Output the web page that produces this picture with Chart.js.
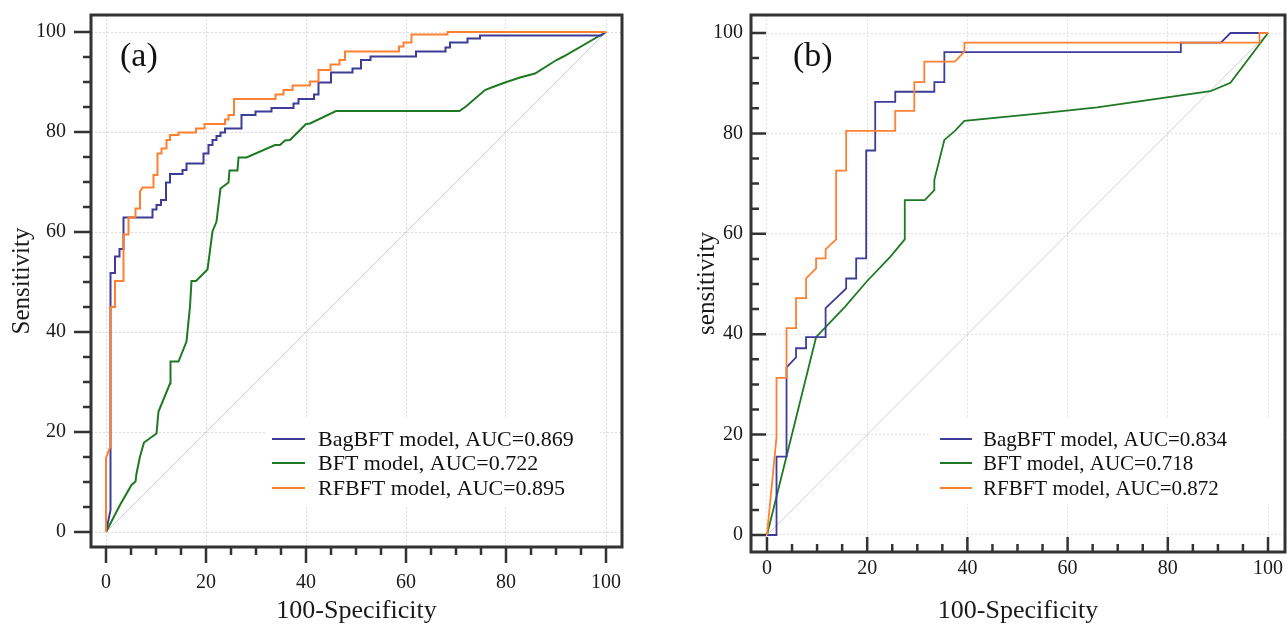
<!DOCTYPE html>
<html>
<head>
<meta charset="utf-8">
<script src="https://cdn.jsdelivr.net/npm/chart.js@4.4.1/dist/chart.umd.min.js"></script>
<style>
html,body{margin:0;padding:0;background:#fff;}
#wrap{position:relative;width:1287px;height:626px;overflow:hidden;}
#chartA{position:absolute;left:0;top:0;}
#chartB{position:absolute;left:640px;top:0;}
</style>
</head>
<body>
<div id="wrap">
  <canvas id="chartA" width="640" height="626"></canvas>
  <canvas id="chartB" width="647" height="626"></canvas>
</div>
<script>
// ==================== DATA ====================
const tickValues = [0,5,10,15,20,25,30,35,40,45,50,55,60,65,70,75,80,85,90,95,100];

const namesA = ["BagBFT model, AUC=0.869", "BFT model, AUC=0.722", "RFBFT model, AUC=0.895"];
const namesB = ["BagBFT model, AUC=0.834", "BFT model, AUC=0.718", "RFBFT model, AUC=0.872"];

// panel (a) - 100-Specificity (x) / Sensitivity (y)
const bagA_x = [0,0.9,0.9,1.8,1.8,2.7,2.7,3.5,3.5,9.3,9.3,10.1,10.1,11,11,12,12,12.8,12.8,15.3,15.3,16.1,16.1,19.5,19.5,20.5,20.5,21.3,21.3,22.1,22.1,22.9,22.9,23.8,23.8,27.1,27.1,29.9,29.9,33.1,33.1,37.5,37.5,38.5,38.5,41.6,41.6,42.5,42.5,45,45,49.3,49.3,51,51,52.9,52.9,62,62,67.9,67.9,68.8,68.8,72.3,72.3,74.8,74.8,99,100];
const bagA_y = [0,4.4,51.8,51.8,55.1,55.1,56.6,56.6,62.9,62.9,64.5,64.5,65.4,65.4,66.4,66.4,69.9,69.9,71.6,71.6,72.4,72.4,73.7,73.7,75.7,75.7,77.4,77.4,78.4,78.4,79.2,79.2,79.9,79.9,80.7,80.7,83.4,83.4,84.1,84.1,84.8,84.8,85.7,85.7,86.6,86.6,87.5,87.5,89.9,89.9,91.9,91.9,92.7,92.7,94.4,94.4,95.1,95.1,96.1,96.1,96.9,96.9,97.9,97.9,98.7,98.7,99.3,99.3,100];

const bftA_x = [0,2.8,5.1,5.9,6.1,6.8,7.6,10.1,10.5,12.8,12.9,14.5,16.1,16.8,17.1,18,20.3,21.3,22.1,22.9,24.5,24.7,26.3,26.5,28.1,33.8,34.8,35.8,36.8,40,40.8,46,70.7,72.1,75.8,77.1,79.8,82.8,85.8,90.1,91.5,100];
const bftA_y = [0,5.4,9.4,10.1,11.7,15.1,17.9,19.7,24.1,29.7,34.1,34.1,38.1,45.1,50.2,50.2,52.5,60.1,62.1,68.7,69.9,72.3,72.3,74.9,74.9,77.4,77.4,78.3,78.4,81.6,81.7,84.2,84.2,85.2,88.4,88.9,89.9,90.9,91.7,94.4,95.1,100];

const rfA_x = [0,0,0.9,0.9,1.8,1.8,3.5,3.5,4.5,4.5,5.9,5.9,6.8,6.8,7.3,9.5,9.5,10.3,10.3,11.1,11.1,12.1,12.1,12.8,12.8,14.5,14.5,18,18,19.7,19.7,23.8,23.8,24.5,24.5,25.6,25.6,33.9,33.9,35.5,35.5,37.3,37.3,40.8,40.8,42.5,42.5,44.9,44.9,46.7,46.7,47.8,47.8,58.6,58.6,59.5,59.5,61.1,61.1,68.3,68.3,100];
const rfA_y = [0,14.8,17.2,45,45,50.2,50.2,59.5,59.5,62.9,62.9,64.7,64.7,68.1,68.9,68.9,71.4,71.4,75.7,75.7,76.7,76.7,78.4,78.4,79.4,79.4,79.9,79.9,80.7,80.7,81.6,81.6,82.5,82.5,83.4,83.4,86.6,86.6,87.5,87.5,88.4,88.4,89.3,89.3,90.1,90.1,92.4,92.4,93.5,93.5,94.4,94.4,96.1,96.1,97.1,97.1,97.9,97.9,99.5,99.5,100,100];

// panel (b)
const bagB_x = [0,1.9,1.9,3.9,3.9,5.8,5.8,7.8,7.8,11.7,11.7,13.8,15.8,15.8,17.8,17.8,19.8,19.8,21.6,21.6,25.6,25.6,33.4,33.4,35.4,35.4,82.6,82.6,90.6,92.5,100];
const bagB_y = [0,0,15.6,15.6,33.4,35.4,37.2,37.2,39.4,39.4,45.2,47.2,49.1,51.1,51.1,55.1,55.1,76.6,76.6,86.3,86.3,88.3,88.3,90.2,90.2,96.2,96.2,98.1,98.1,100,100];

const bftB_x = [0,9.8,11.7,15.6,19.9,24.6,27.5,27.5,31.5,33.4,33.4,35.4,37.5,39.4,54.6,65.9,88.5,92.5,100];
const bftB_y = [0,39.4,41.4,45.5,50.5,55.4,58.9,66.7,66.7,68.7,70.7,78.7,80.5,82.5,84,85.2,88.4,90.1,100];

const rfB_x = [0,1.9,1.9,3.9,3.9,5.8,5.8,7.8,7.8,9.8,9.8,11.7,11.7,13.8,13.8,15.8,15.8,25.6,25.6,29.4,29.4,31.4,31.4,37.5,39.4,39.4,98.3,98.3,100];
const rfB_y = [0,19.5,31.3,31.3,41.2,41.2,47.2,47.2,51.1,53.1,55.1,55.1,56.9,58.9,72.6,72.6,80.5,80.5,84.5,84.5,90.2,90.2,94.3,94.3,96.3,98.1,98.1,100,100];

const diag_x = [0,100];
const diag_y = [0,100];

// ==================== STYLE ====================
const colBag = '#3d3d99';
const colBft = '#1e7a22';
const colRf = '#ff8030';
const serif = "'Liberation Serif', 'Times New Roman', serif";

function pts(xs, ys){
    return xs.map((x, i) => ({x: x, y: ys[i]}));
}

// frame, tick marks, panel letter and legend
const rocDecor = {
    id: 'rocDecor',
    beforeDatasetsDraw(chart, args, o){
        const ctx = chart.ctx;
        ctx.save();
        ctx.fillStyle = '#fff';
        ctx.fillRect(o.box[0], o.box[1], o.box[2], o.box[3]);
        ctx.restore();
    },
    afterDraw(chart, args, o){
        const ctx = chart.ctx, a = chart.chartArea;
        const xs = chart.scales.x, ys = chart.scales.y;
        const dir = o.inward ? -1 : 1;
        ctx.save();
        ctx.strokeStyle = '#333';
        ctx.lineWidth = 2.5;
        ctx.beginPath();
        tickValues.forEach(v => {
            const major = v % 20 === 0;
            const px = xs.getPixelForValue(v);
            ctx.moveTo(px, a.bottom);
            ctx.lineTo(px, a.bottom + dir * (major ? o.majorX : o.minor));
            const py = ys.getPixelForValue(v);
            ctx.moveTo(a.left, py);
            ctx.lineTo(a.left - dir * (major ? o.majorY : o.minor), py);
        });
        ctx.stroke();

        ctx.lineWidth = 3;
        ctx.strokeRect(a.left, a.top, a.right - a.left, a.bottom - a.top);

        ctx.fillStyle = '#111';
        ctx.font = '34px ' + serif;
        ctx.textBaseline = 'alphabetic';
        ctx.fillText(o.label, o.labelX, o.labelY);

        ctx.font = o.legendFont + 'px ' + serif;
        ctx.textBaseline = 'middle';
        for(let i = 0; i < 3; i++){
            const ds = chart.data.datasets[i];
            const y = o.rowY[i];
            ctx.strokeStyle = ds.borderColor;
            ctx.lineWidth = 2;
            ctx.beginPath();
            ctx.moveTo(o.lineX[0], y);
            ctx.lineTo(o.lineX[1], y);
            ctx.stroke();
            ctx.fillStyle = '#111';
            ctx.fillText(ds.label, o.textX, y + 1);
        }
        ctx.restore();
    }
};

function makeChart(id, cfg){
    const gridColor = c => (c.tick && c.tick.value % 20 === 0) ? cfg.gridColor : 'rgba(0,0,0,0)';
    const tickFont = {family: serif, size: 20};
    const yTitleFont = {family: serif, size: 25, lineHeight: 1};
    const xTitleFont = {family: serif, size: 26, lineHeight: 1};
    return new Chart(document.getElementById(id), {
        type: 'line',
        data: {
            datasets: [
                {label: cfg.names[0], data: pts(cfg.bag[0], cfg.bag[1]), borderColor: colBag, borderWidth: cfg.lw, order: 1},
                {label: cfg.names[1], data: pts(cfg.bft[0], cfg.bft[1]), borderColor: colBft, borderWidth: cfg.lw, order: 2},
                {label: cfg.names[2], data: pts(cfg.rf[0], cfg.rf[1]), borderColor: colRf, borderWidth: cfg.lw, order: 0},
                {label: 'reference', data: pts(diag_x, diag_y), borderColor: '#cfcfcf', borderWidth: 1, order: 3}
            ]
        },
        options: {
            responsive: false,
            animation: false,
            layout: {padding: cfg.pad},
            elements: {point: {radius: 0, hoverRadius: 0}, line: {tension: 0, fill: false}},
            plugins: {legend: {display: false}, tooltip: {enabled: false}, rocDecor: cfg.decor},
            scales: {
                x: {
                    type: 'linear', min: cfg.xr[0], max: cfg.xr[1],
                    afterBuildTicks: s => { s.ticks = tickValues.map(v => ({value: v})); },
                    afterFit: s => { s.height = cfg.xh; s.paddingLeft = 0; s.paddingRight = 0; },
                    ticks: {callback: v => v % 20 === 0 ? String(v) : '', font: tickFont, color: '#1a1a1a',
                            padding: cfg.xpad, maxRotation: 0, autoSkip: false},
                    grid: {drawTicks: false, color: gridColor, lineWidth: 1},
                    border: {display: false, dash: [2, 2]},
                    title: {display: true, text: '100-Specificity', font: xTitleFont, color: '#1a1a1a', padding: {top: 0, bottom: 2}}
                },
                y: {
                    type: 'linear', min: cfg.yr[0], max: cfg.yr[1],
                    afterBuildTicks: s => { s.ticks = tickValues.map(v => ({value: v})); },
                    afterFit: s => { s.width = cfg.yw; s.paddingTop = 0; s.paddingBottom = 0; },
                    ticks: {callback: v => v % 20 === 0 ? String(v) : '', font: tickFont, color: '#1a1a1a',
                            padding: cfg.ypad, autoSkip: false},
                    grid: {drawTicks: false, color: gridColor, lineWidth: 1},
                    border: {display: false, dash: [2, 2]},
                    title: {display: true, text: cfg.ytitle, font: yTitleFont, color: '#1a1a1a', padding: {top: cfg.ytpad, bottom: 0}}
                }
            }
        },
        plugins: [rocDecor]
    });
}

makeChart('chartA', {
    names: namesA,
    bag: [bagA_x, bagA_y], bft: [bftA_x, bftA_y], rf: [rfA_x, rfA_y],
    lw: 2, gridColor: '#dcdcdc',
    pad: {left: 0, top: 15, right: 18, bottom: 0},
    xr: [-3, 103.2], yr: [-3, 103.4], xh: 79, yw: 91, xpad: 24, ypad: 25,
    ytitle: 'Sensitivity', ytpad: 9.5,
    decor: {inward: false, majorX: 16, majorY: 17, minor: 8, label: '(a)', labelX: 120, labelY: 66,
            box: [266, 418, 334, 88], legendFont: 22, rowY: [439, 463, 488], lineX: [272, 305], textX: 318}
});

makeChart('chartB', {
    names: namesB,
    bag: [bagB_x, bagB_y], bft: [bftB_x, bftB_y], rf: [rfB_x, rfB_y],
    lw: 1.8, gridColor: '#e0e0e0',
    pad: {left: 0, top: 15, right: 2, bottom: 0},
    xr: [-3.19, 103.39], yr: [-3.39, 103.59], xh: 74, yw: 111, xpad: 5, ypad: 8,
    ytitle: 'sensitivity', ytpad: 54.5,
    decor: {inward: true, majorX: 15, majorY: 15, minor: 8, label: '(b)', labelX: 153, labelY: 66,
            box: [290, 417, 350, 87], legendFont: 21, rowY: [439, 463, 488], lineX: [300, 332], textX: 343}
});
</script>
</body>
</html>
